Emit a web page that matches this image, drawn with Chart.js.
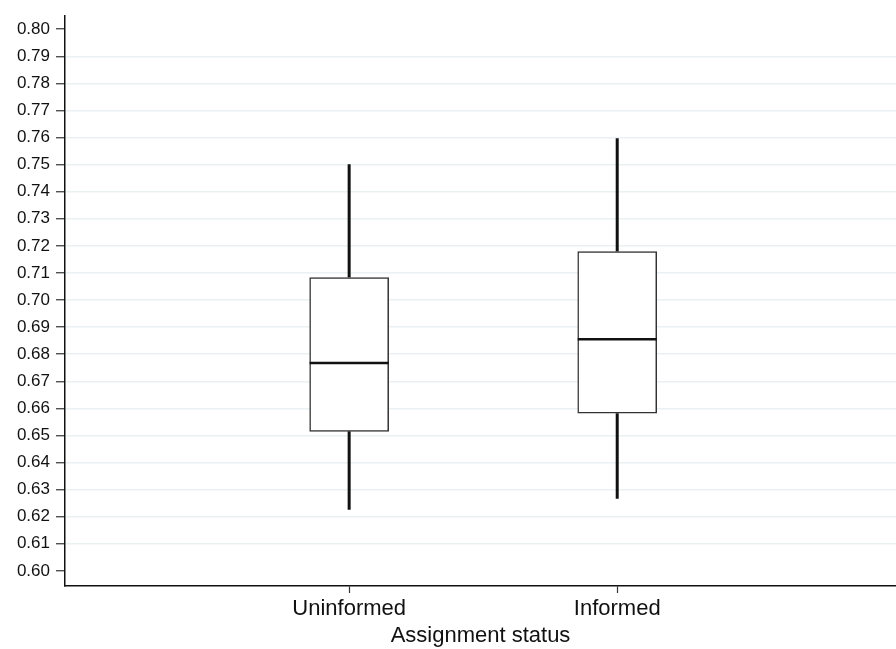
<!DOCTYPE html>
<html>
<head>
<meta charset="utf-8">
<script src="https://cdn.jsdelivr.net/npm/chart.js@4/dist/chart.umd.min.js"></script>
<style>
  html, body { margin: 0; padding: 0; background: #fff; }
  #wrap { width: 896px; height: 649px; }
</style>
</head>
<body>
<div id="wrap"><canvas id="boxChart"></canvas></div>
<script>
// box plot by assignment status
const categories = ["Uninformed", "Informed"];
const whiskerLow = [0.6226, 0.6266];
const quartile1 = [0.6515, 0.6582];
const medians = [0.6767, 0.6855];
const quartile3 = [0.7083, 0.7179];
const whiskerHigh = [0.7501, 0.7597];
const yTicks = [0.60, 0.61, 0.62, 0.63, 0.64, 0.65, 0.66, 0.67, 0.68, 0.69, 0.70,
                0.71, 0.72, 0.73, 0.74, 0.75, 0.76, 0.77, 0.78, 0.79, 0.80];

const font = "'Liberation Sans', Arial, Helvetica, sans-serif";

const whiskerSet = (from, to) => categories.map((c, i) => ({
  type: "line",
  data: [{ x: i + 1, y: from[i] }, { x: i + 1, y: to[i] }],
  borderColor: "#111",
  borderWidth: 3,
  pointRadius: 0,
  order: 2
}));

const medianLines = {
  id: "medianLines",
  afterDatasetsDraw(chart) {
    const ctx = chart.ctx;
    const y = chart.scales.y;
    chart.getDatasetMeta(0).data.forEach((bar, i) => {
      const py = y.getPixelForValue(medians[i]);
      ctx.save();
      ctx.strokeStyle = "#111";
      ctx.lineWidth = 2.5;
      ctx.beginPath();
      ctx.moveTo(bar.x - bar.width / 2, py);
      ctx.lineTo(bar.x + bar.width / 2, py);
      ctx.stroke();
      ctx.restore();
    });
  }
};

new Chart(document.getElementById("boxChart"), {
  type: "bar",
  data: {
    datasets: [
      {
        data: categories.map((c, i) => ({ x: i + 1, y: [quartile1[i], quartile3[i]] })),
        backgroundColor: "#fff",
        borderColor: "#333",
        borderWidth: 1.5,
        borderSkipped: false,
        barThickness: 79,
        order: 1
      },
      ...whiskerSet(whiskerLow, quartile1),
      ...whiskerSet(quartile3, whiskerHigh)
    ]
  },
  options: {
    responsive: true,
    maintainAspectRatio: false,
    animation: false,
    layout: { padding: { top: 11, right: 0, left: 0, bottom: 0 } },
    plugins: { legend: { display: false }, tooltip: { enabled: false } },
    scales: {
      x: {
        type: "linear",
        offset: false,
        min: -0.06,
        max: 3.04,
        afterBuildTicks: (scale) => { scale.ticks = categories.map((c, i) => ({ value: i + 1 })); },
        afterFit: (scale) => { scale.height = 63; },
        ticks: {
          color: "#111",
          font: { family: font, size: 22 },
          padding: 3,
          maxRotation: 0,
          callback: (v) => categories[v - 1]
        },
        grid: { offset: false, drawOnChartArea: false, tickLength: 7, tickColor: "#333", tickWidth: 1.2 },
        border: { color: "#111", width: 1.5 },
        title: {
          display: true,
          text: "Assignment status",
          color: "#111",
          font: { family: font, size: 22 },
          padding: { top: 0, bottom: 0 }
        }
      },
      y: {
        min: 0.5944,
        max: 0.8048,
        afterBuildTicks: (scale) => { scale.ticks = yTicks.map((v) => ({ value: v })); },
        afterFit: (scale) => { scale.width = 65; },
        ticks: {
          color: "#111",
          font: { family: font, size: 17 },
          padding: 6,
          callback: (v) => v.toFixed(2)
        },
        grid: {
          color: (c) => (c.tick && (c.tick.value < 0.605 || c.tick.value > 0.795)) ? "rgba(0,0,0,0)" : "#e9f1f3",
          lineWidth: 1.5,
          tickLength: 9,
          tickColor: "#333",
          tickWidth: 1.2
        },
        border: { color: "#111", width: 1.5 }
      }
    }
  },
  plugins: [medianLines]
});
</script>
</body>
</html>
